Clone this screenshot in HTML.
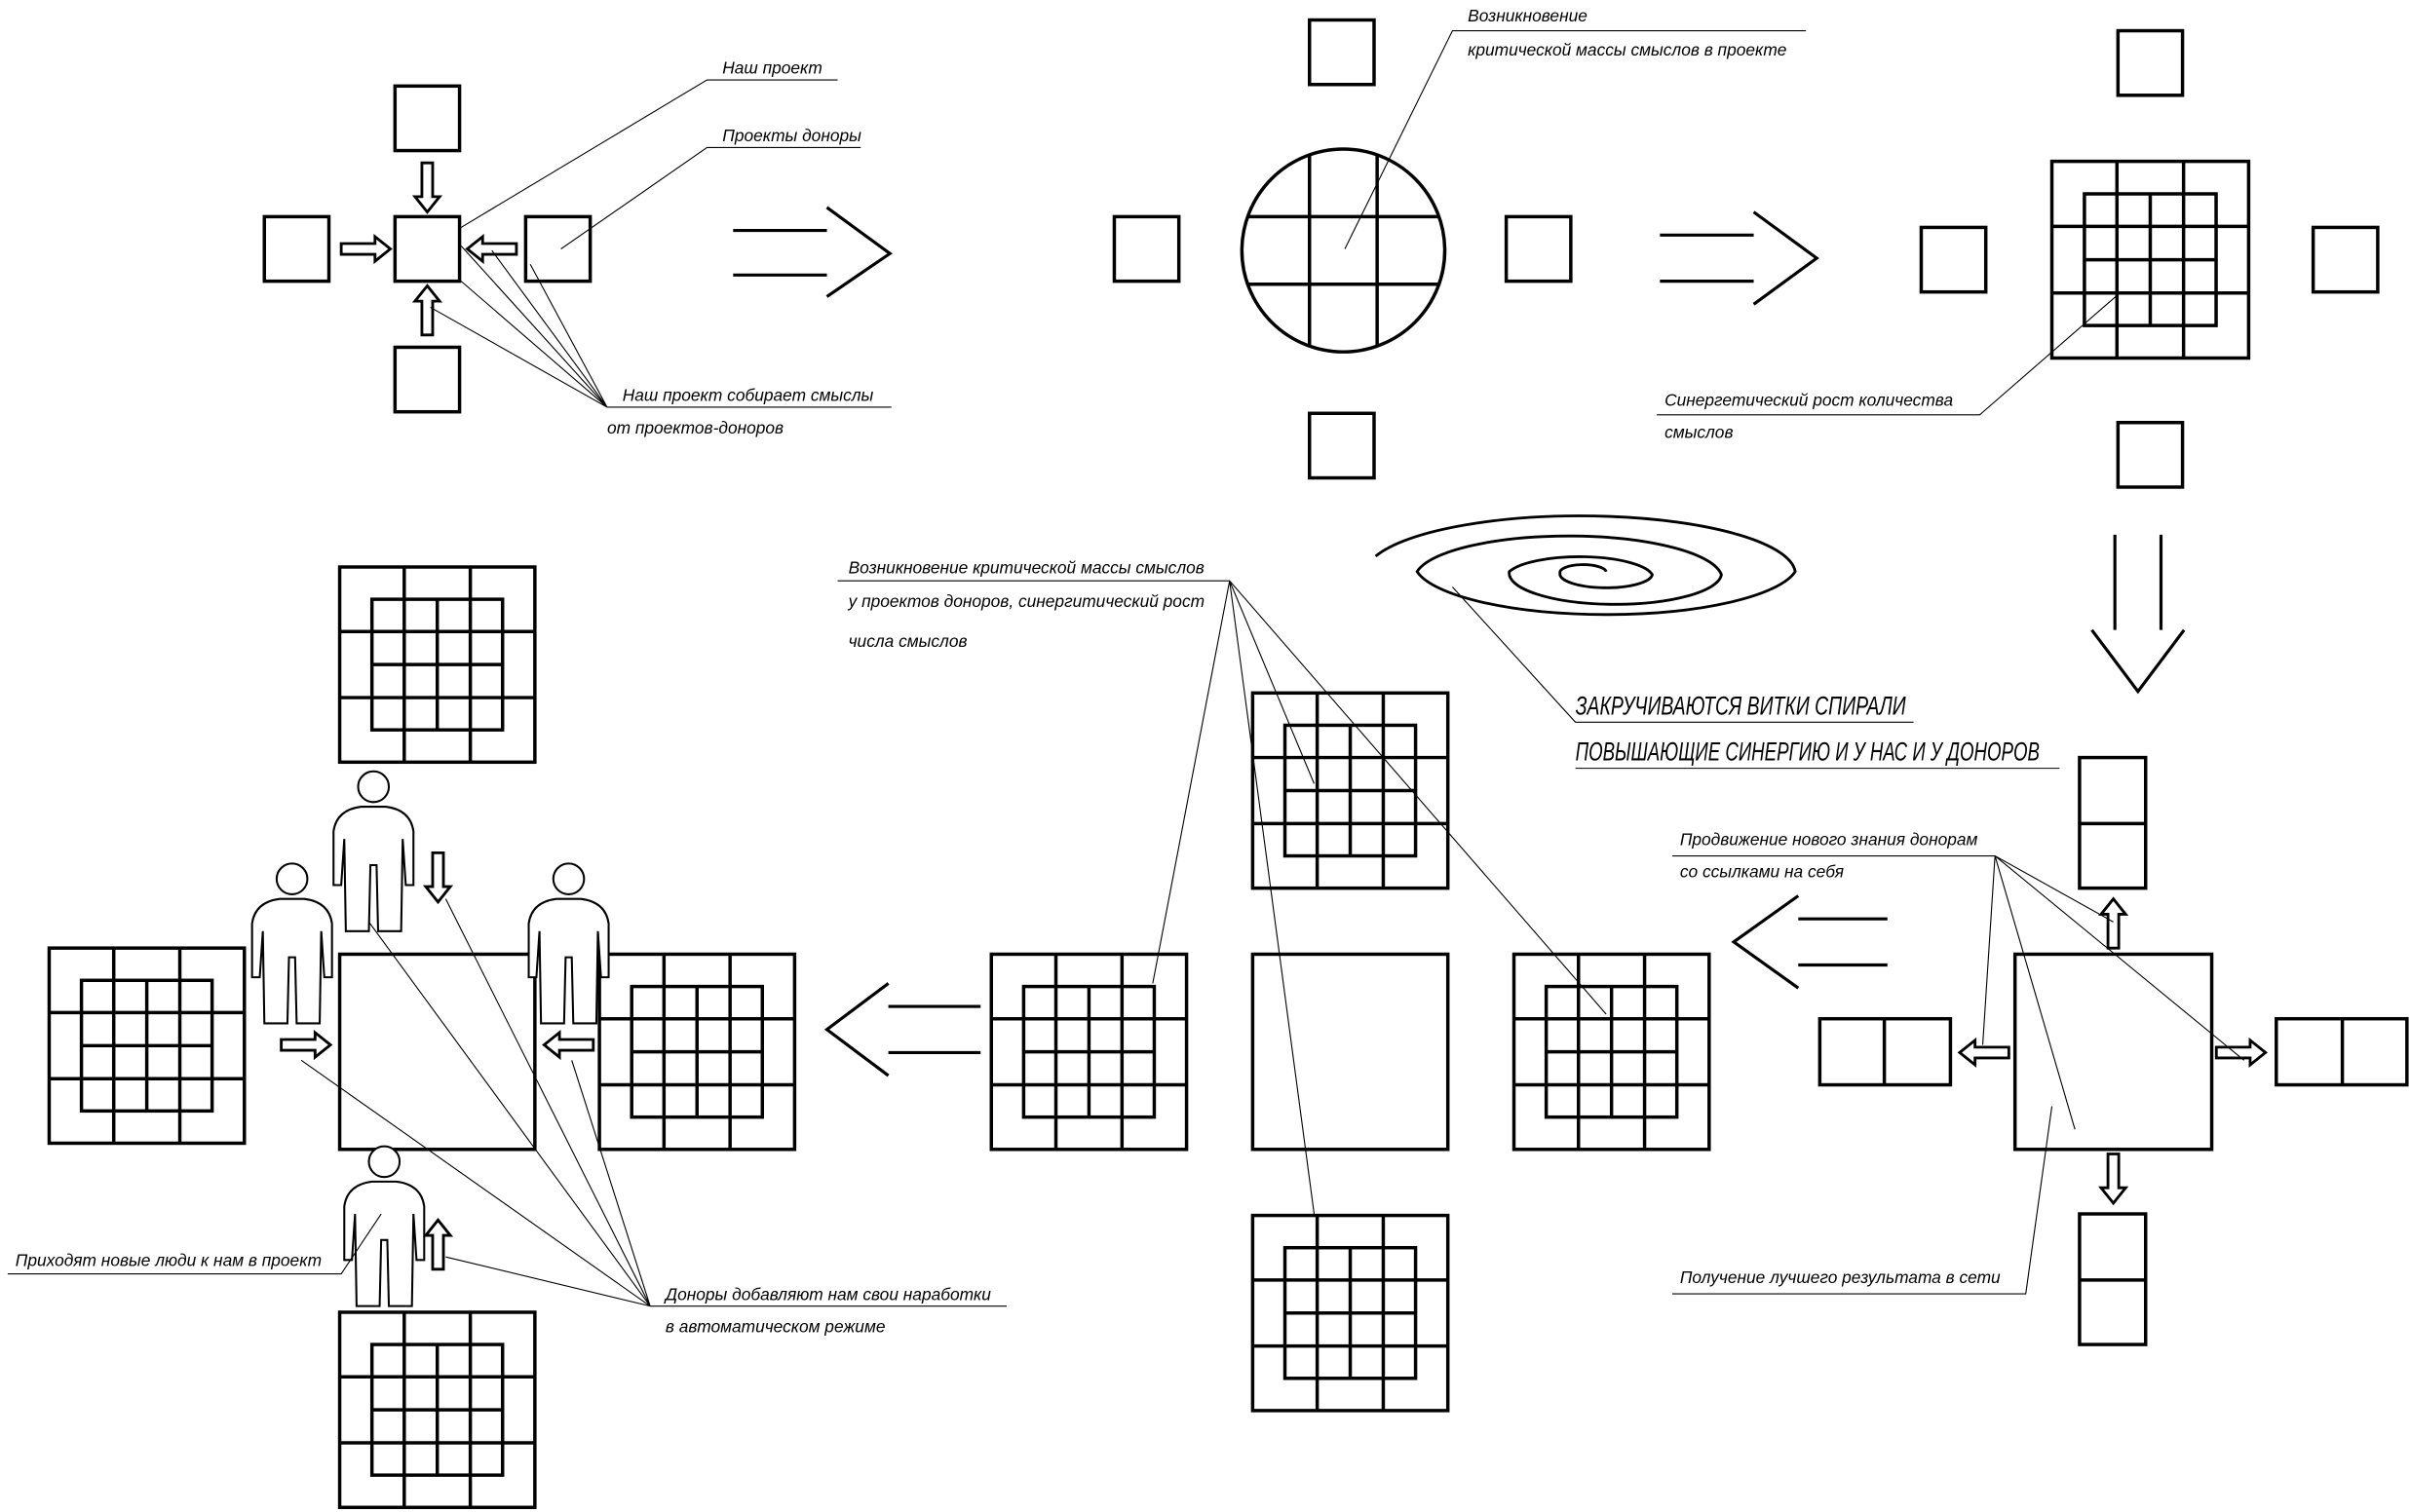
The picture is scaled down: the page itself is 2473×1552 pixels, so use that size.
<!DOCTYPE html>
<html><head><meta charset="utf-8"><style>
html,body{margin:0;padding:0;background:#fff}
svg{display:block}
text{font-family:"Liberation Sans",sans-serif;font-style:italic;font-size:11px;fill:#000}
.b{fill:none;stroke:#000;stroke-width:2.2}
.t{fill:none;stroke:#000;stroke-width:0.7}
</style></head><body>
<svg width="2473" height="1552" viewBox="0 0 1568 984" preserveAspectRatio="none" xmlns="http://www.w3.org/2000/svg" xmlns:xlink="http://www.w3.org/1999/xlink">
<defs>
<clipPath id="cc"><circle cx="874" cy="163" r="66"/></clipPath>
<g id="grid" style="fill:none;stroke:#000;stroke-width:2.2">
<rect x="0" y="0" width="127" height="127"/>
<rect x="21" y="21" width="85" height="85"/>
<path d="M42,0V127M85,0V127M0,42H127M0,85H127M63.5,21V106M21,63.5H106"/>
</g>
<path id="arr" d="M0,-3.5 L22,-3.5 L22,-8 L32,0 L22,8 L22,3.5 L0,3.5 Z" fill="#fff" stroke="#000" stroke-width="1.8"/>
<g id="man" fill="#fff" stroke="#000" stroke-width="1.3">
<circle cx="0" cy="11" r="10"/>
<path d="M-8,24 L8,24 Q24,26 26,40 L26,75 L21,75 L19,45 L18,105 L3,105 L2,62 L-2,62 L-3,105 L-18,105 L-19,45 L-21,75 L-26,75 L-26,40 Q-24,26 -8,24 Z"/>
</g>
</defs>

<!-- top-left -->
<g class="b">
<rect x="257" y="141" width="42" height="42"/>
<rect x="257" y="56" width="42" height="42"/>
<rect x="257" y="226" width="42" height="42"/>
<rect x="172" y="141" width="42" height="42"/>
<rect x="342" y="141" width="42" height="42"/>
</g>
<use xlink:href="#arr" transform="translate(278,106) rotate(90)"/>
<use xlink:href="#arr" transform="translate(278,218) rotate(-90)"/>
<use xlink:href="#arr" transform="translate(222,162)"/>
<use xlink:href="#arr" transform="translate(336,162) rotate(180)"/>
<g class="t">
<path d="M545,52H460L300,148"/>
<path d="M560,96H460L365,162"/>
<path d="M580,265H395L280,200M395,265L300,160M395,265L320,163M395,265L345,172M395,265L300,183"/>
</g>
<text x="470" y="48">Наш проект</text>
<text x="470" y="92">Проекты доноры</text>
<text x="405" y="261">Наш проект собирает смыслы</text>
<text x="395" y="282">от проектов-доноров</text>
<path class="b" style="stroke-width:2" d="M477,150H538M477,179H538M538,135L579,165L538,193"/>

<!-- top middle -->
<g class="b">
<circle cx="874" cy="163" r="66"/>
<path clip-path="url(#cc)" d="M800,141H950M800,185H950M852,90V240M896,90V240"/>
<rect x="852" y="13" width="42" height="42"/>
<rect x="852" y="269" width="42" height="42"/>
<rect x="725" y="141" width="42" height="42"/>
<rect x="980" y="141" width="42" height="42"/>
</g>
<path class="t" d="M1175,20H945L875,162"/>
<text x="955" y="14">Возникновение</text>
<text x="955" y="36">критической массы смыслов в проекте</text>
<path class="b" style="stroke-width:2" d="M1080,153H1141M1080,183H1141M1141,138L1182,168L1141,198"/>

<!-- top right -->
<use xlink:href="#grid" transform="translate(1335,105) scale(1.008)"/>
<g class="b">
<rect x="1250" y="148" width="42" height="42"/>
<rect x="1505" y="148" width="42" height="42"/>
<rect x="1378" y="20" width="42" height="42"/>
<rect x="1378" y="275" width="42" height="42"/>
</g>
<path class="t" d="M1078,270H1288L1380,190"/>
<text x="1083" y="264">Синергетический рост количества</text>
<text x="1083" y="285">смыслов</text>
<path class="b" style="stroke-width:2" d="M1376,348V410M1406,348V410M1361,410L1391,450L1421,410"/>

<!-- spiral -->
<path class="b" style="stroke-width:1.8" d="M1045,372 A15,5 0 0 0 1015,373 A30,9 0 0 0 1075,374 A48,14 0 0 0 982,372 A68,20 0 0 0 1120,374 A100,28 0 0 0 922,372 A125,34 0 0 0 1168,372 A140,38 0 0 0 895,362"/>
<path class="t" d="M945,382L1025,470H1245M1025,500H1340"/>
<text x="1025" y="465" style="font-size:17px" textLength="215" lengthAdjust="spacingAndGlyphs">ЗАКРУЧИВАЮТСЯ ВИТКИ СПИРАЛИ</text>
<text x="1025" y="495" style="font-size:17px" textLength="302" lengthAdjust="spacingAndGlyphs">ПОВЫШАЮЩИЕ СИНЕРГИЮ И У НАС И У ДОНОРОВ</text>

<!-- right bottom -->
<g class="b">
<rect x="1311" y="621" width="128" height="127"/>
<rect x="1353" y="493" width="43" height="85"/><path d="M1353,536H1396"/>
<rect x="1353" y="790" width="43" height="85"/><path d="M1353,833H1396"/>
<rect x="1184" y="663" width="85" height="43"/><path d="M1226,663V706"/>
<rect x="1481" y="663" width="85" height="43"/><path d="M1524,663V706"/>
</g>
<use xlink:href="#arr" transform="translate(1375,617) rotate(-90)"/>
<use xlink:href="#arr" transform="translate(1375,751) rotate(90)"/>
<use xlink:href="#arr" transform="translate(1307,685) rotate(180)"/>
<use xlink:href="#arr" transform="translate(1442,685)"/>
<g class="t">
<path d="M1088,557H1298L1375,600M1298,557L1290,680M1298,557L1350,735M1298,557L1460,690"/>
<path d="M1088,842H1318L1335,720"/>
</g>
<text x="1093" y="550">Продвижение нового знания донорам</text>
<text x="1093" y="571">со ссылками на себя</text>
<text x="1093" y="835">Получение лучшего результата в сети</text>
<path class="b" style="stroke-width:2" d="M1170,598H1228M1170,628H1228M1170,583L1128,613L1170,643"/>

<!-- middle cluster -->
<use xlink:href="#grid" x="815" y="451"/>
<use xlink:href="#grid" x="985" y="621"/>
<use xlink:href="#grid" x="815" y="791"/>
<use xlink:href="#grid" x="645" y="621"/>
<rect class="b" x="815" y="621" width="127" height="127"/>
<path class="b" style="stroke-width:2" d="M578,655H638M578,685H638M578,640L538,670L578,700"/>
<path class="t" d="M545,378H800L855,510M800,378L1045,660M800,378L855,790M800,378L750,640"/>
<text x="552" y="373">Возникновение критической массы смыслов</text>
<text x="552" y="395">у проектов доноров, синергитический рост</text>
<text x="552" y="421">числа смыслов</text>

<!-- left cluster -->
<rect class="b" x="221" y="621" width="127" height="127"/>
<use xlink:href="#grid" x="221" y="369"/>
<use xlink:href="#grid" x="32" y="617"/>
<use xlink:href="#grid" x="390" y="621"/>
<use xlink:href="#grid" x="221" y="854"/>
<use xlink:href="#man" x="243" y="501"/>
<use xlink:href="#man" x="190" y="561"/>
<use xlink:href="#man" x="370" y="561"/>
<use xlink:href="#man" x="250" y="745"/>
<use xlink:href="#arr" transform="translate(285,555) rotate(90)"/>
<use xlink:href="#arr" transform="translate(183,680)"/>
<use xlink:href="#arr" transform="translate(386,680) rotate(180)"/>
<use xlink:href="#arr" transform="translate(285,826) rotate(-90)"/>
<g class="t">
<path d="M5,829H222L248,790"/>
<path d="M655,850H423L290,585M423,850L196,690M423,850L290,818M423,850L372,690M423,850L240,600"/>
</g>
<text x="10" y="824">Приходят новые люди к нам в проект</text>
<text x="433" y="846">Доноры добавляют нам свои наработки</text>
<text x="433" y="867">в автоматическом режиме</text>
</svg>
</body></html>
